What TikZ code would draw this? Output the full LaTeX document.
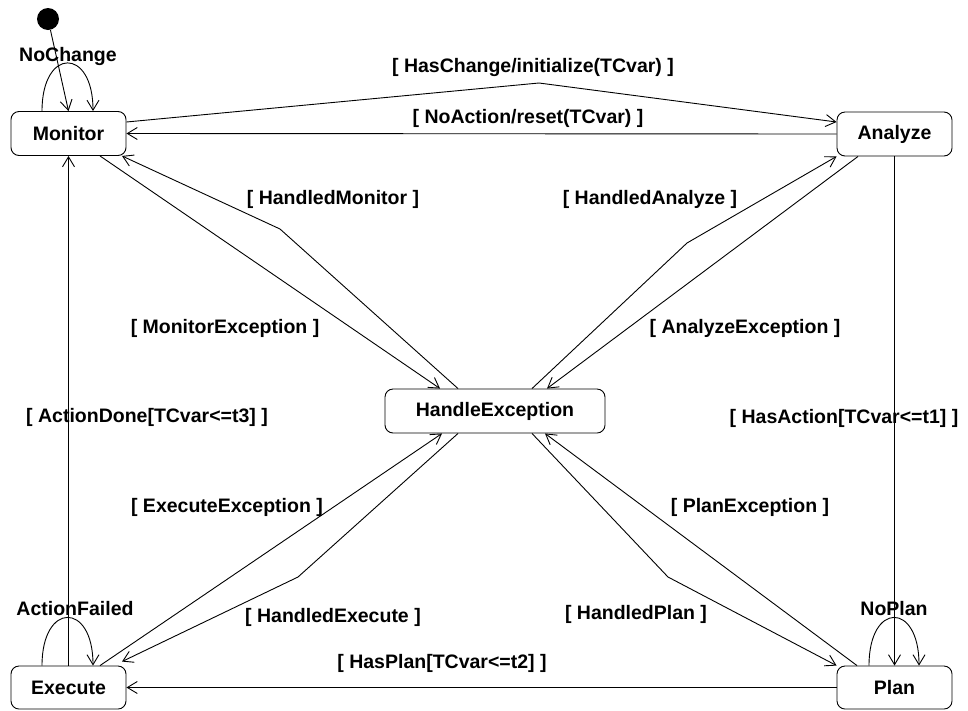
\documentclass[tikz,border=0pt]{standalone}
\usepackage{fontspec}
\setmainfont{Liberation Sans}
\usetikzlibrary{arrows.meta}
\begin{document}
\begin{tikzpicture}[x=1pt,y=-1pt,
  every node/.style={font=\fontsize{19.5}{23}\selectfont\bfseries},
  state/.style={draw, rounded corners=8pt, line width=0.9pt, inner sep=0pt,
                minimum width=115pt, minimum height=44pt},
  conn/.style={line width=0.9pt, -{Straight Barb[length=10pt,width=12pt]}},
  lbl/.style={anchor=base, inner sep=0pt}]
\useasboundingbox (0,0) rectangle (968,710);

% states
\node[circle, fill=black, inner sep=0pt, minimum size=22pt] (init) at (48,19) {};
\node[state] (monitor) at (68.5,133.5) {Monitor};
\node[state] (analyze) at (894.5,134) {Analyze};
\node[state, minimum width=220pt] (he) at (495,411) {HandleException};
\node[state, minimum height=43pt] (execute) at (68.5,687.5) {Execute};
\node[state, minimum height=43pt] (plan) at (894.5,687.5) {Plan};

% bend points
\coordinate (top) at (539,83);
\coordinate (bm) at (280,229);
\coordinate (ba) at (687,243);
\coordinate (be) at (298,577);
\coordinate (bp) at (668,577);

% transitions
\draw[conn] (init) -- (monitor.north);
\draw[conn] ([xshift=-26.5pt]monitor.north) .. controls +(0pt,64pt) and +(0pt,64pt) .. ([xshift=24.5pt]monitor.north);
\draw[conn] ([yshift=11.5pt]monitor.east) -- (top) -- ([yshift=12pt]analyze.west);
\draw[conn] (analyze.west) -- (monitor.east);
\draw[conn] ([xshift=31.5pt]monitor.south) -- ([xshift=-55pt]he.north);
\draw[conn] ([xshift=-37pt]he.north) -- (bm) -- ([xshift=53.5pt]monitor.south);
\draw[conn] ([xshift=-36.5pt]analyze.south) -- ([xshift=52pt]he.north);
\draw[conn] ([xshift=37pt]he.north) -- (ba) -- (analyze.south west);
\draw[conn] (analyze.south) -- (plan.north);
\draw[conn] (execute.north) -- (monitor.south);
\draw[conn] ([xshift=-26.5pt]execute.north) .. controls +(0pt,64pt) and +(0pt,64pt) .. ([xshift=24.5pt]execute.north);
\draw[conn] ([xshift=-25.5pt]plan.north) .. controls +(0pt,64pt) and +(0pt,64pt) .. ([xshift=24.5pt]plan.north);
\draw[conn] (plan.west) -- (execute.east);
\draw[conn] ([xshift=31.5pt]execute.north) -- ([xshift=-53pt]he.south);
\draw[conn] ([xshift=-37pt]he.south) -- (be) -- ([xshift=53.5pt,yshift=4pt]execute.north);
\draw[conn] ([xshift=-37.5pt]plan.north) -- ([xshift=50pt]he.south);
\draw[conn] ([xshift=37pt]he.south) -- (bp) -- (plan.north west);

% guards and event labels
\node[lbl] (lnochange) at (68,61) {NoChange};
\node[lbl] (lhaschange) at (533,72) {[ HasChange/initialize(TCvar) ]};
\node[lbl] (lnoaction) at (528,123) {[ NoAction/reset(TCvar) ]};
\node[lbl] (lhmon) at (333,204) {[ HandledMonitor ]};
\node[lbl] (lhana) at (650,204) {[ HandledAnalyze ]};
\node[lbl] (lmonex) at (225,333) {[ MonitorException ]};
\node[lbl] (lanaex) at (745,333) {[ AnalyzeException ]};
\node[lbl] (ldone) at (147,422) {[ ActionDone[TCvar<=t3] ]};
\node[lbl] (lhasaction) at (844,423) {[ HasAction[TCvar<=t1] ]};
\node[lbl] (lexeex) at (227,512) {[ ExecuteException ]};
\node[lbl] (lplanex) at (750,512) {[ PlanException ]};
\node[lbl] (lfailed) at (75,615) {ActionFailed};
\node[lbl] (lnoplan) at (894,615) {NoPlan};
\node[lbl] (lhexe) at (333,622) {[ HandledExecute ]};
\node[lbl] (lhplan) at (636,619) {[ HandledPlan ]};
\node[lbl] (lhasplan) at (442,668) {[ HasPlan[TCvar<=t2] ]};
\end{tikzpicture}
\end{document}
